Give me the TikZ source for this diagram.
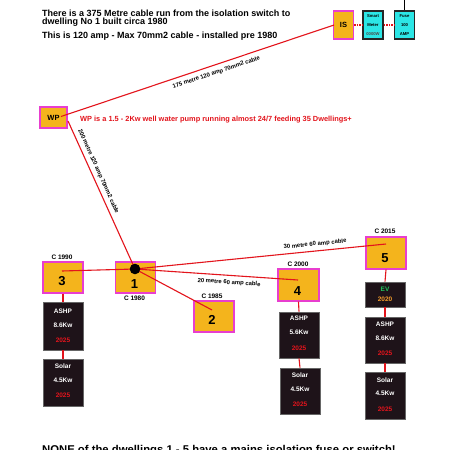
\documentclass[tikz,border=0pt]{standalone}
\usepackage{fontspec}
\setmainfont{Liberation Sans}
\usetikzlibrary{calc}
\definecolor{boxyel}{HTML}{F4B41C}
\definecolor{boxmag}{HTML}{E83ECF}
\definecolor{boxcyan}{HTML}{2CE6E6}
\definecolor{boxdark}{HTML}{1E1319}
\definecolor{cabred}{HTML}{E3141C}
\definecolor{evgreen}{HTML}{22C55E}
\definecolor{evorange}{HTML}{F59E2B}
\begin{document}
\begin{tikzpicture}[x=1pt,y=-1pt,
  dwel/.style={draw=boxmag,fill=boxyel,line width=1.2pt,minimum width=40pt,minimum height=31pt,inner sep=0pt},
  smallbox/.style={draw=black!85,fill=boxcyan,line width=1.2pt,minimum width=20pt,minimum height=28pt,inner sep=0pt,
    font=\bfseries\fontsize{4.2}{8}\selectfont,align=center},
  isbox/.style={draw=boxmag,fill=boxyel,line width=1.2pt,minimum width=20pt,minimum height=28pt,inner sep=0pt,font=\bfseries\fontsize{7.5}{8}\selectfont},
  darkbox/.style={draw=black!60,fill=boxdark,line width=0.8pt,minimum width=40pt,inner sep=0pt},
  dtxt/.style={text=white,font=\bfseries\fontsize{6.5}{7}\selectfont,inner sep=0pt},
  ytxt/.style={text=cabred,font=\bfseries\fontsize{6.5}{7}\selectfont,inner sep=0pt},
  numtxt/.style={font=\bfseries\fontsize{13}{14}\selectfont,inner sep=0pt},
  yeartxt/.style={font=\bfseries\fontsize{6.5}{7}\selectfont,inner sep=0pt},
  cablab/.style={font=\bfseries\fontsize{5.9}{6}\selectfont,inner sep=0pt,sloped},
  cable/.style={draw=cabred,line width=1.1pt},
  conn/.style={draw=cabred,line width=1.1pt},
  headtxt/.style={font=\bfseries\fontsize{9}{9}\selectfont,inner sep=0pt,anchor=base west}
]
\useasboundingbox (0,0) rectangle (450,450);
\fill[white] (0,0) rectangle (450,450);

% header text
\node[headtxt] (h1) at (42,16.3) {There is a 375 Metre cable run from the isolation switch to};
\node[headtxt] (h2) at (42,24) {dwelling No 1 built circa 1980};
\node[headtxt] (h3) at (42,38.5) {This is 120 amp - Max 70mm2 cable - installed pre 1980};

% top right chain
\node[isbox] (is) at (343.5,25) {IS};
\node[smallbox] (sm) at (373,25) {Smart\\[1pt]Meter\\[1pt]{\color{black!70}0000W}};
\node[smallbox] (fuse) at (404.5,25) {Fuse\\[1pt]100\\[1pt]AMP};
\coordinate (top) at (404.5,0);
\draw[black,line width=1.2pt] (fuse.north) -- (top);
\draw[cabred,line width=1.3pt,dash pattern=on 1.5pt off 1pt] (is.east) -- (sm.west);
\draw[cabred,line width=1.3pt,dash pattern=on 1.5pt off 1pt] (sm.east) -- (fuse.west);

% WP
\node[dwel,minimum width=27pt,minimum height=21pt,font=\bfseries\fontsize{7.5}{8}\selectfont] (wp) at (53.5,117.5) {WP};
\node[inner sep=0pt,anchor=base west,text=cabred,font=\bfseries\fontsize{7.4}{8}\selectfont] (wptxt) at (80,121) {WP is a 1.5 - 2Kw well water pump running almost 24/7 feeding 35 Dwellings+};
\coordinate (wpa) at (61,116.5);
\coordinate (wpb) at (68,121);
\coordinate (isa) at (334,25);

% dwellings
\node[dwel] (n1) at (135.5,277.5) {};
\node[numtxt] (n1num) at (134.5,284) {1};
\node[yeartxt] (n1y) at (134.5,298.5) {C 1980};
\coordinate (hub) at (135,269);

\node[dwel] (n3) at (63,277.5) {};
\node[numtxt] (n3num) at (62,281) {3};
\node[yeartxt] (n3y) at (62,257) {C 1990};
\coordinate (p3) at (62,271);

\node[dwel] (n2) at (214,316.5) {};
\node[numtxt] (n2num) at (212,320) {2};
\node[yeartxt] (n2y) at (212,296) {C 1985};
\coordinate (p2) at (212,310);

\node[dwel,minimum width=41pt,minimum height=32pt] (n4) at (298.5,285) {};
\node[numtxt] (n4num) at (297.5,291) {4};
\node[yeartxt] (n4y) at (298,264) {C 2000};
\coordinate (p4) at (298,280);

\node[dwel,minimum height=32pt] (n5) at (386,253) {};
\node[numtxt] (n5num) at (385,258) {5};
\node[yeartxt] (n5y) at (385,231) {C 2015};
\coordinate (p5) at (386,244);

% cables
\draw[cable] (wpa) -- node[cablab,below=4.5pt,pos=0.56] (lab1) {175 metre 120 amp 70mm2 cable} (isa);
\draw[cable] (wpb) -- node[cablab,above=3.5pt,pos=0.36] (lab2) {200 metre 120 amp 70mm2 cable} (hub);
\draw[cable] (hub) -- (p3);
\draw[cable] (hub) -- (p2);
\draw[cable] (hub) -- node[cablab,below=4pt,pos=0.58] (lab4) {20 metre 60 amp cable} (p4);
\draw[cable] (hub) -- node[cablab,above=3.5pt,pos=0.72] (lab5) {30 metre 60 amp cable} (p5);
\fill[black] (hub) circle (5.3pt);

% column 3
\node[darkbox,minimum height=48pt] (a3) at (63,326) {};
\node[dtxt] (a3t1) at (63,311) {ASHP};
\node[dtxt] (a3t2) at (63,325.5) {8.6Kw};
\node[ytxt] (a3t3) at (63,340) {2025};
\node[darkbox,minimum height=47pt] (s3) at (63,382.5) {};
\node[dtxt] (s3t1) at (63,366) {Solar};
\node[dtxt] (s3t2) at (63,380.5) {4.5Kw};
\node[ytxt] (s3t3) at (63,395.5) {2025};
\draw[conn] (n3.south) -- (a3.north);
\draw[conn] (a3.south) -- (s3.north);

% column 4
\node[darkbox,minimum height=46pt] (a4) at (299,335) {};
\node[dtxt] (a4t1) at (299,318.5) {ASHP};
\node[dtxt] (a4t2) at (299,332.5) {5.6Kw};
\node[ytxt] (a4t3) at (299,348.5) {2025};
\node[darkbox,minimum height=46pt] (s4) at (300,391) {};
\node[dtxt] (s4t1) at (300,375) {Solar};
\node[dtxt] (s4t2) at (300,389) {4.5Kw};
\node[ytxt] (s4t3) at (300,404.5) {2025};
\draw[conn] (n4.south) -- (a4.north);
\draw[conn] (a4.south) -- (s4.north);

% column 5
\node[darkbox,minimum height=25pt] (ev) at (385,294.5) {};
\node[dtxt,text=evgreen] (evt1) at (385,289) {EV};
\node[dtxt,text=evorange] (evt2) at (385,299.5) {2020};
\node[darkbox,minimum height=46pt] (a5) at (385,340) {};
\node[dtxt] (a5t1) at (385,324) {ASHP};
\node[dtxt] (a5t2) at (385,338) {8.6Kw};
\node[ytxt] (a5t3) at (385,353.5) {2025};
\node[darkbox,minimum height=47pt] (s5) at (385,395.5) {};
\node[dtxt] (s5t1) at (385,380) {Solar};
\node[dtxt] (s5t2) at (385,393.5) {4.5Kw};
\node[ytxt] (s5t3) at (385,409) {2025};
\draw[conn] (n5.south) -- (ev.north);
\draw[conn] (ev.south) -- (a5.north);
\draw[conn] (a5.south) -- (s5.north);

% bottom text
\node[inner sep=0pt,anchor=base west,font=\bfseries\fontsize{11.3}{12}\selectfont] (foot) at (42,453.5) {NONE of the dwellings 1 - 5 have a mains isolation fuse or switch!};
\end{tikzpicture}
\end{document}
